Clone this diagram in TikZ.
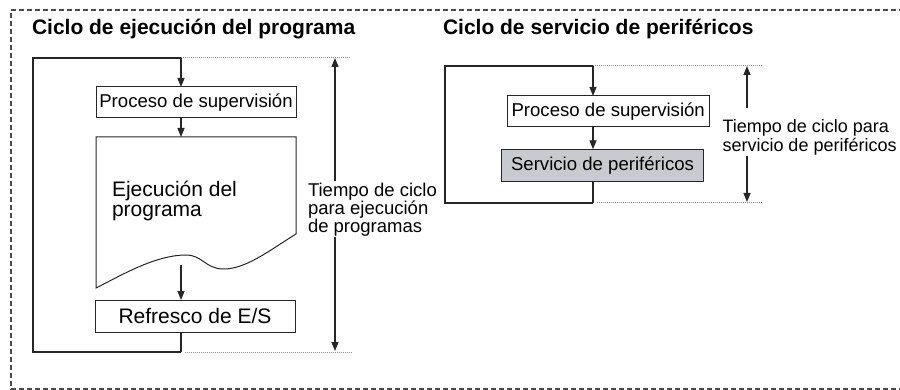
\documentclass[tikz,border=0pt]{standalone}
\usepackage{fontspec}
\setmainfont{Liberation Sans}
\usetikzlibrary{arrows.meta,calc}
\definecolor{servgray}{HTML}{C8CACF}
\newcommand\mlines[2]{\vtop{\baselineskip=#1pt\lineskiplimit=-100pt\lineskip=0pt\halign{##\hfil\cr#2\crcr}}}
\begin{document}
\begin{tikzpicture}[x=1pt,y=-1pt,
  every node/.style={inner sep=0pt, outer sep=0pt},
  ln/.style={line width=1.3pt, draw=black!85},
  arr/.style={ln, -{Triangle[length=9pt,width=7pt]}},
  dotl/.style={line width=1pt, draw=black!45, dash pattern=on 1pt off 1pt},
  frame/.style={line width=1.5pt, draw=black!70, dash pattern=on 5pt off 3pt},
  proc/.style={draw=black!85, line width=1pt, fill=white, font=\fontsize{18.6}{20}\selectfont},
  ttl/.style={font=\bfseries\fontsize{21}{24}\selectfont, anchor=base west},
  lbl/.style={anchor=base west},
]
\useasboundingbox (0,0) rectangle (900,390);
\clip (0,0) rectangle (900,390);
\draw[frame] (920,10) -- (11,10) -- (11,389) -- (920,389);

\node[ttl] (t1) at (32,35) {Ciclo de ejecución del programa};
\node[ttl] (t2) at (443,35) {Ciclo de servicio de periféricos};

% left cycle
\coordinate (Ltop) at (181,58);
\coordinate (Lbot) at (181,352);
\draw[ln] (Ltop) -- (33,58) -- (33,352) -- (Lbot);
\node[proc, minimum width=200pt, minimum height=31pt] (sup1) at (196,102.5) {Proceso de supervisión};
\draw[ln, line width=1pt] (96,137) -- (296,137) -- (296,234)
  .. controls (270,250) and (245,270) .. (222,269)
  .. controls (205,268) and (202,255) .. (186,255)
  .. controls (155,255) and (120,276) .. (96,288) -- cycle;
\coordinate (docT) at (181,137);
\coordinate (docB) at (181,265);
\node[lbl, font=\fontsize{21}{20}\selectfont] (ejec) at (112,196.7) {\mlines{20}{Ejecución del\cr programa}};
\node[proc, font=\fontsize{21}{22}\selectfont, minimum width=200pt, minimum height=32.5pt] (ref) at (195,316.3) {Refresco de E/S};
\draw[arr] (Ltop) -- (Ltop |- sup1.north);
\draw[arr] (sup1.south -| Ltop) -- (docT);
\draw[arr] (docB) -- (ref.north -| Ltop);
\draw[ln] (ref.south -| Ltop) -- (Lbot);
\draw[dotl] (Ltop) -- (350,58);
\draw[dotl] (185,352) -- (352,352);

\node[lbl, font=\fontsize{18.5}{18}\selectfont] (dim1) at (308,197) {\mlines{18}{Tiempo de ciclo\cr para ejecución\cr de programas}};
\coordinate (D1t) at (335,58);
\coordinate (D1b) at (335,351);
\draw[arr] ($(dim1.north -| D1t)+(0,-3)$) -- (D1t);
\draw[arr] (dim1.south -| D1t) -- (D1b);

% right cycle
\coordinate (Rtop) at (593,66);
\coordinate (Rbot) at (593,203);
\draw[ln] (Rtop) -- (445,66) -- (445,203) -- (Rbot);
\node[proc, minimum width=201.7pt, minimum height=30.7pt] (sup2) at (608.2,111.3) {Proceso de supervisión};
\node[proc, fill=servgray, minimum width=201.6pt, minimum height=32.4pt] (serv) at (602.5,165.5) {Servicio de periféricos};
\draw[arr] (Rtop) -- (Rtop |- sup2.north);
\draw[arr] (sup2.south -| Rtop) -- (serv.north -| Rtop);
\draw[ln] (serv.south -| Rtop) -- (Rbot);
\draw[dotl] (Rtop) -- (763,66);
\draw[dotl] (597,203) -- (763,203);

\node[lbl, font=\fontsize{18}{18}\selectfont] (dim2) at (722.5,133) {\mlines{18.5}{Tiempo de ciclo para\cr servicio de periféricos}};
\coordinate (D2t) at (747,66);
\coordinate (D2b) at (747,202);
\draw[arr] ($(dim2.north -| D2t)+(0,-12)$) -- (D2t);
\draw[arr] ($(dim2.south -| D2t)+(0,1)$) -- (D2b);
\end{tikzpicture}
\end{document}
